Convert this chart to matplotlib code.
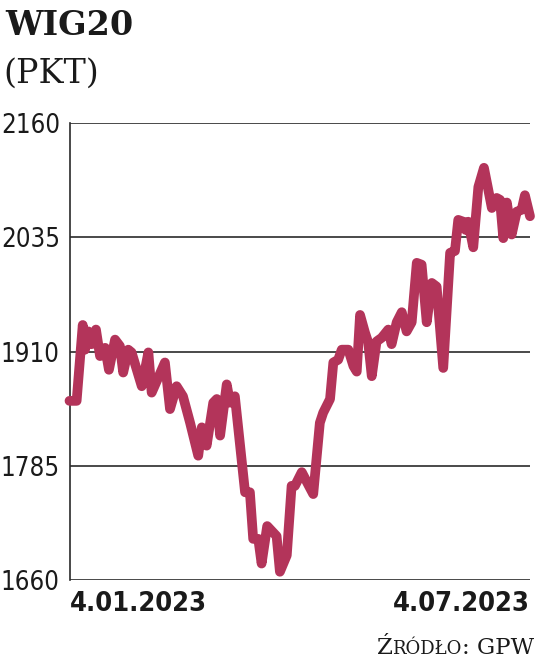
import matplotlib
matplotlib.use("Agg")
import matplotlib.pyplot as plt
from matplotlib import font_manager as fm
from matplotlib.font_manager import FontProperties
from matplotlib.offsetbox import TextArea, HPacker, AnchoredOffsetbox

# days since 4.01.2023
days = [0, 2.8, 5.2, 6.1, 7.4, 8.7, 10.4, 12.0, 14.0, 15.5, 17.9, 19.8, 21.1, 23.1, 24.4,
        28.4, 31.0, 32.3, 37.5, 39.5, 42.1, 44.6, 47.4, 50.6, 52.0, 53.9, 56.5, 57.9, 59.2,
        61.8, 63.1, 65.0, 69.0, 70.9, 72.2, 74.2, 75.5, 77.7, 81.4, 82.7, 85.4, 87.3, 88.6,
        91.3, 93.9, 95.8, 98.4, 99.7, 102.4, 103.7, 105.6, 107.0, 109.6, 111.6, 112.9, 114.2,
        116.1, 117.4, 118.8, 120.7, 122.7, 125.3, 126.6, 128.6, 130.6, 132.5, 134.5, 136.5,
        138.4, 140.4, 142.4, 144.3, 146.9, 149.6, 151.5, 152.8, 154.8, 155.7, 156.7, 158.7,
        160.7, 162.9, 164.6, 166.0, 167.9, 169.2, 170.5, 171.9, 173.8, 175.8, 177.7, 179.0, 181.0]
values = [1856, 1856, 1939, 1912, 1932, 1918, 1934, 1905, 1914, 1890, 1923, 1916, 1887, 1912, 1909,
          1872, 1909, 1865, 1898, 1847, 1872, 1861, 1832, 1796, 1827, 1807, 1854, 1858, 1818,
          1874, 1854, 1861, 1756, 1756, 1705, 1705, 1678, 1719, 1708, 1669, 1687, 1763, 1763,
          1778, 1764, 1754, 1832, 1843, 1858, 1898, 1901, 1912, 1912, 1894, 1888, 1950,
          1931, 1920, 1883, 1921, 1925, 1934, 1918, 1942, 1953, 1932, 1942, 2007,
          2005, 1942, 1985, 1981, 1892, 2018, 2020, 2054, 2052, 2043, 2052, 2024,
          2090, 2111, 2087, 2067, 2078, 2076, 2034, 2073, 2038, 2063, 2065, 2081, 2058]

yticks = [1660, 1785, 1910, 2035, 2160]
xtick_pos = [0, 181]
xtick_labels = ["4.01.2023", "4.07.2023"]

LINE = "#b3345a"
GRID = "#2a2a2a"
TXT = "#1a1a1a"


def narrow_font(bold):
    """Find an installed condensed / narrow sans face, if any."""
    cands = []
    for f in fm.fontManager.ttflist:
        n = f.name.lower()
        st = f.stretch
        is_narrow = ("narrow" in n or "condensed" in n or
                     st in ("condensed", "semi-condensed", "extra-condensed",
                            "ultra-condensed") or
                     (isinstance(st, (int, float)) and st < 500))
        if not is_narrow or "mono" in n or "serif" in n:
            continue
        w = f.weight if isinstance(f.weight, (int, float)) else (
            700 if "bold" in str(f.weight) else 400)
        if f.style != "normal":
            continue
        if bold and w >= 600:
            cands.append((abs(w - 700), f.fname))
        if not bold and w < 600:
            cands.append((abs(w - 400), f.fname))
    if cands:
        cands.sort()
        return cands[0][1]
    return None


reg_f = narrow_font(False)
bold_f = narrow_font(True)
if reg_f:
    ylab_fp = FontProperties(fname=reg_f, size=18.5)
else:
    ylab_fp = FontProperties(family=["Roboto", "DejaVu Sans"], size=18)
if bold_f:
    xlab_fp = FontProperties(fname=bold_f, size=19.5)
else:
    xlab_fp = FontProperties(family=["Roboto", "DejaVu Sans"], weight="bold", size=20)

fig = plt.figure(figsize=(5.36, 6.67), dpi=100)
ax = fig.add_axes([69.5 / 536, 1 - 580 / 667, (530 - 69.5) / 536, (580 - 123) / 667])

for v in yticks:
    ax.axhline(v, color=GRID, lw=1.2, zorder=1)
ax.plot(days, values, color=LINE, lw=7.0, solid_joinstyle="round",
        solid_capstyle="round", clip_on=False, zorder=3)

ax.set_xlim(0, 181)
ax.set_ylim(1660, 2160)
for s in ["top", "right", "bottom"]:
    ax.spines[s].set_visible(False)
ax.spines["left"].set_color(GRID)
ax.spines["left"].set_linewidth(1.2)
ax.tick_params(length=0)
ax.set_yticks(yticks)
ax.set_yticklabels([str(v) for v in yticks], fontproperties=ylab_fp, color=TXT)
ax.tick_params(axis="y", pad=7)
ax.set_xticks([])

# x labels
ax.text(xtick_pos[0], -0.025, xtick_labels[0], transform=ax.get_xaxis_transform(),
        ha="left", va="top", fontproperties=xlab_fp, color=TXT)
ax.text(xtick_pos[1], -0.025, xtick_labels[1], transform=ax.get_xaxis_transform(),
        ha="right", va="top", fontproperties=xlab_fp, color=TXT)

# titles
fig.text(5 / 536, 1 - 35 / 667, "WIG20", family="DejaVu Serif", fontweight="bold",
         fontsize=24, color=TXT, ha="left", va="baseline")
fig.text(3 / 536, 1 - 83 / 667, "(PKT)", family="DejaVu Serif", fontsize=24,
         color=TXT, ha="left", va="baseline")

# source with small caps
parts = [("Ź", 16.5), ("RÓDŁO", 13), (": GPW", 16.5)]
boxes = [TextArea(t, textprops=dict(family="DejaVu Serif", fontsize=s, color=TXT))
         for t, s in parts]
pack = HPacker(children=boxes, align="baseline", pad=0, sep=0)
ab = AnchoredOffsetbox(loc="lower right", child=pack, pad=0, frameon=False,
                       bbox_to_anchor=(534 / 536, 1 - 659 / 667),
                       bbox_transform=fig.transFigure, borderpad=0)
fig.add_artist(ab)

fig.savefig("out.png", dpi=100)
